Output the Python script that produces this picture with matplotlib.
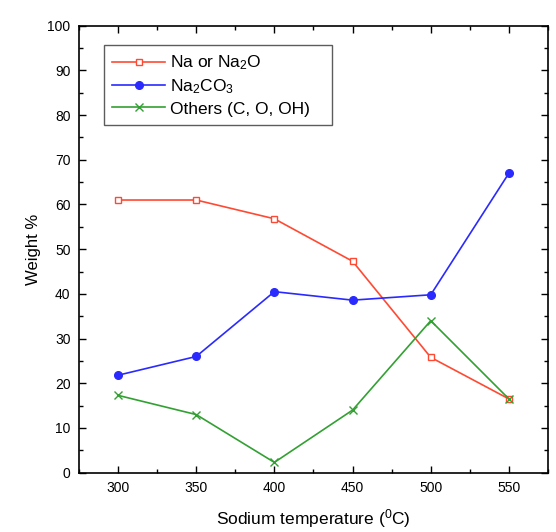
import matplotlib.pyplot as plt
from matplotlib.ticker import MultipleLocator

plt.rcParams['font.family'] = ['Liberation Sans', 'DejaVu Sans']
plt.rcParams['mathtext.fontset'] = 'custom'
plt.rcParams['mathtext.rm'] = 'Liberation Sans'
plt.rcParams['mathtext.it'] = 'Liberation Sans:italic'

temps = [300, 350, 400, 450, 500, 550]
na = [61.0, 61.0, 56.8, 47.3, 25.8, 16.5]
na2co3 = [21.8, 26.0, 40.5, 38.6, 39.8, 67.0]
others = [17.3, 13.0, 2.3, 14.0, 34.0, 16.5]

fig = plt.figure(figsize=(5.56, 5.32), dpi=100)
ax = fig.add_axes([0.142, 0.1115, 0.8436, 0.8402])

ax.plot(temps, na, color='#ff4a33', lw=1.2, marker='s', ms=5,
        mfc='white', mec='#ff4a33', mew=1.0, label='Na or Na$_\\mathrm{2}$O')
ax.plot(temps, na2co3, color='#2a2aff', lw=1.2, marker='o', ms=5.5,
        label='Na$_\\mathrm{2}$CO$_\\mathrm{3}$')
ax.plot(temps, others, color='#33a033', lw=1.2, marker='x', ms=6,
        mew=1.0, label='Others (C, O, OH)')

ax.set_xlim(275, 575)
ax.set_ylim(0, 100)
ax.xaxis.set_major_locator(MultipleLocator(50))
ax.xaxis.set_minor_locator(MultipleLocator(25))
ax.yaxis.set_major_locator(MultipleLocator(10))
ax.yaxis.set_minor_locator(MultipleLocator(5))
ax.tick_params(which='both', direction='in', top=True, right=True,
               labelsize=10, width=1.0)
ax.tick_params(which='major', length=5, pad=6)
ax.tick_params(which='minor', length=3)
for s in ax.spines.values():
    s.set_linewidth(1.2)

ax.set_xlabel('Sodium temperature ($^\\mathrm{0}$C)', fontsize=12.5, labelpad=9)
ax.set_ylabel('Weight %', fontsize=12, labelpad=5)

# legend box stretched to the reference width
leg = ax.legend(loc='upper left', bbox_to_anchor=(0.053, 0.957, 0.486, 0),
                mode='expand', fontsize=12.5,
                frameon=True, fancybox=False, edgecolor='#333333',
                handlelength=3.0, borderpad=0.5, labelspacing=0.3,
                handletextpad=0.3, borderaxespad=0)
leg.get_frame().set_linewidth(1.0)

fig.savefig('out.png', dpi=100)
